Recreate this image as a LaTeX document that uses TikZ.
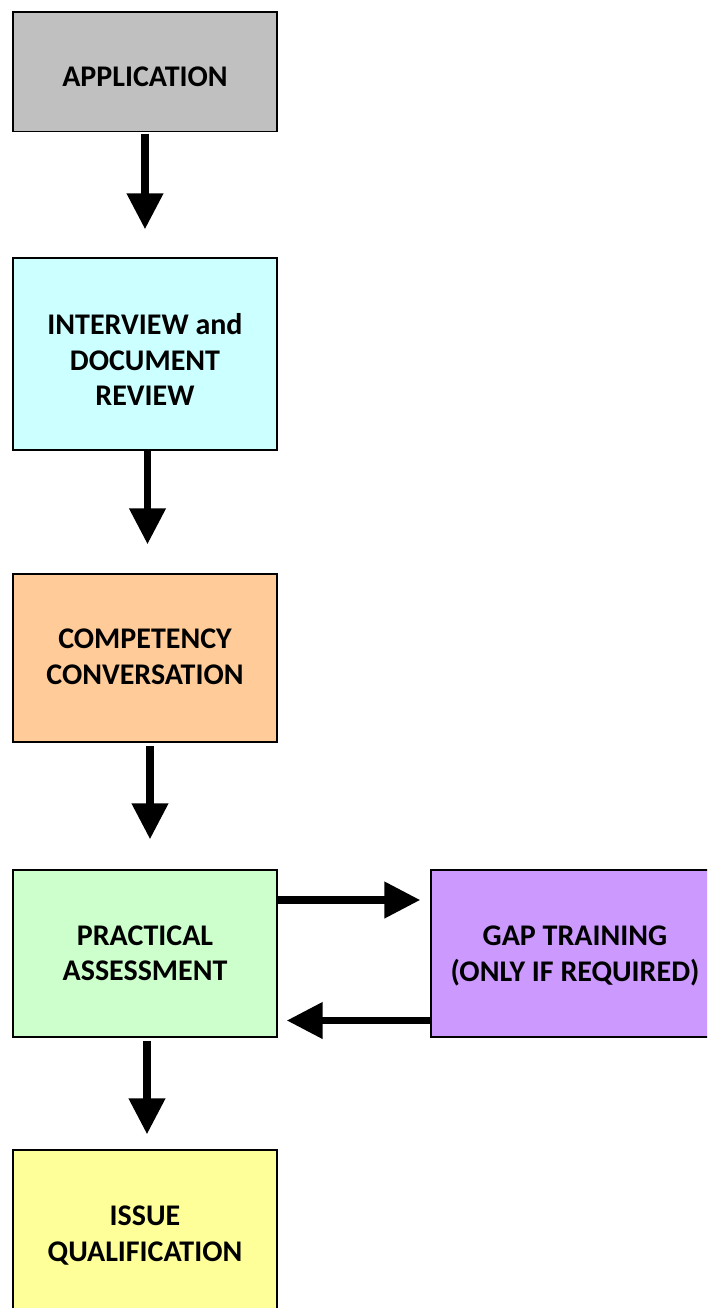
\documentclass[tikz,border=0pt]{standalone}
\usepackage{fontspec}
\setmainfont{Carlito}
\usetikzlibrary{arrows.meta}
\definecolor{cgray}{HTML}{C0C0C0}
\definecolor{ccyan}{HTML}{CCFFFF}
\definecolor{corange}{HTML}{FFCC99}
\definecolor{cgreen}{HTML}{CCFFCC}
\definecolor{cpurple}{HTML}{CC99FF}
\definecolor{cyellow}{HTML}{FFFF99}
\begin{document}
\begin{tikzpicture}[x=1pt,y=-1pt,
  box/.style={draw=black, line width=1.4pt, minimum width=264pt, inner sep=0pt},
  lbl/.style={inner sep=0pt, align=center, font=\bfseries\fontsize{30}{35.5}\selectfont},
  arr/.style={line width=7.5pt, -{Triangle[length=36pt,width=35pt]}}]
\useasboundingbox (0,0) rectangle (707,1308);
\clip (0,0) rectangle (707,1308);
\fill[white] (0,0) rectangle (707,1308);
% boxes
\node[box, fill=cgray,   minimum height=119.5pt] (app)  at (145,71.75) {};
\node[box, fill=ccyan,   minimum height=192pt]   (int)  at (145,354) {};
\node[box, fill=corange, minimum height=168pt]   (comp) at (145,658) {};
\node[box, fill=cgreen,  minimum height=167pt]   (prac) at (145,953.5) {};
\node[box, fill=cpurple, minimum height=167pt, minimum width=290pt] (gap) at (576,953.5) {};
\node[box, fill=cyellow, minimum height=166pt]   (iss)  at (145,1233) {};
% labels
\node[lbl] (appt)  at ([yshift=-5pt]app.center) {APPLICATION};
\node[lbl] (intt)  at ([yshift=-5.5pt]int.center) {INTERVIEW and\\DOCUMENT\\REVIEW};
\node[lbl] (compt) at ([yshift=1pt]comp.center) {COMPETENCY\\CONVERSATION};
\node[lbl] (pract) at (prac.center) {PRACTICAL\\ASSESSMENT};
\node[lbl] (gapt)  at (575,956) {GAP TRAINING\\(ONLY IF REQUIRED)};
\node[lbl] (isst)  at ([yshift=-2.5pt]iss.center) {ISSUE\\QUALIFICATION};
% arrows
\draw[arr] ([yshift=-1.5pt]app.south) -- ([yshift=28pt]int.north);
\draw[arr] ([xshift=2.5pt]int.south) -- ([xshift=2.5pt,yshift=29pt]comp.north);
\draw[arr] ([xshift=5pt,yshift=-3pt]comp.south) -- ([xshift=5pt,yshift=30pt]prac.north);
\draw[arr] ([xshift=2pt,yshift=-3pt]prac.south) -- ([xshift=2pt,yshift=15pt]iss.north);
\draw[arr] (prac.east |- 0,900) -- ([xshift=-10pt]gap.west |- 0,900);
\draw[arr] (gap.west |- 0,1020.5) -- ([xshift=9pt]prac.east |- 0,1020.5);
\end{tikzpicture}
\end{document}
